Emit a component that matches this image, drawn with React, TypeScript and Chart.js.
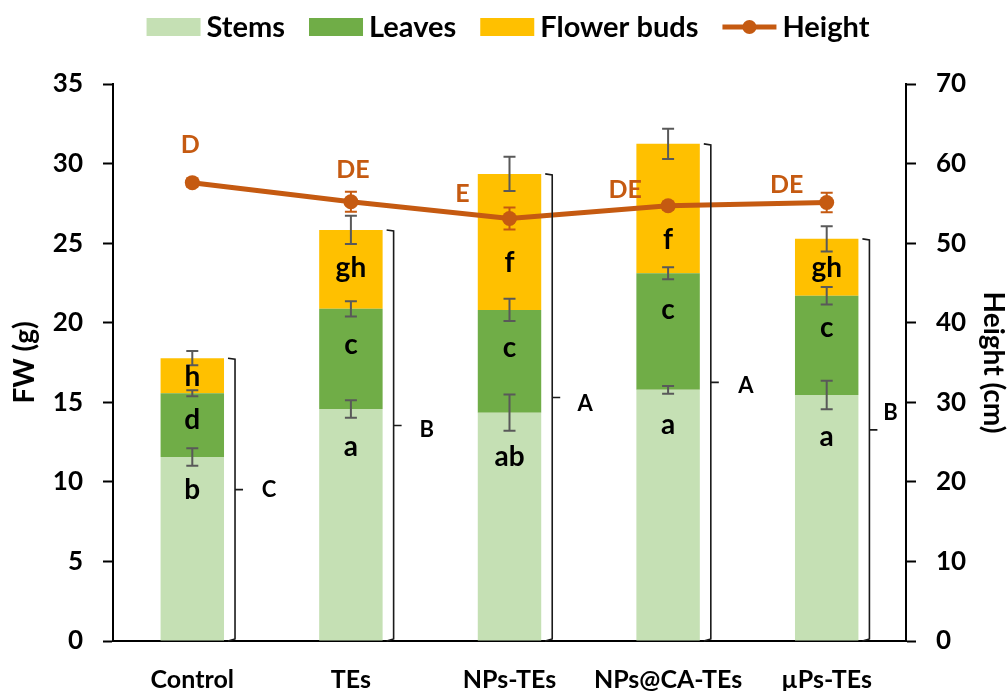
import React, { useEffect, useRef } from "react";
import { Chart, registerables } from "chart.js";

Chart.register(...registerables);

// ---- data ----
const categories = ["Control", "TEs", "NPs-TEs", "NPs@CA-TEs", "µPs-TEs"];
const stems = [11.56, 14.58, 14.35, 15.78, 15.46];
const leaves = [4.01, 6.29, 6.45, 7.33, 6.24];
const flowerBuds = [2.2, 4.96, 8.55, 8.13, 3.57];
const heightCm = [57.6, 55.2, 53.1, 54.7, 55.1];

const stemsErr = [0.55, 0.55, 1.14, 0.24, 0.89];
const leavesErr = [0.19, 0.48, 0.7, 0.38, 0.55];
const flowerErr = [0.45, 0.89, 1.08, 0.95, 0.79];
const heightErr = [0.5, 1.26, 1.38, 0.5, 1.23];

const stemsLetters = ["b", "a", "ab", "a", "a"];
const leavesLetters = ["d", "c", "c", "c", "c"];
const flowerLetters = ["h", "gh", "f", "f", "gh"];
const heightLetters = ["D", "DE", "E", "DE", "DE"];
const totalLetters = ["C", "B", "A", "A", "B"];

// ---- label placement (layout: FW units / px offsets) ----
const stemsLabelAt = [9.49, 12.21, 11.58, 13.57, 12.84];
const leavesLabelAt = [13.9, 18.6, 18.39, 20.8, 19.65];
const flowerLabelAt = [16.6, 23.44, 23.73, 25.2, 23.42];
const heightLabelOffset = [
  [-2, -38],
  [2, -32],
  [-47, -25],
  [-43, -16],
  [-40, -18],
];
const groupLabelOffset = [
  [34, 0],
  [33, 4],
  [33, 6],
  [35, 3],
  [21, -17],
];

const FONT = "Lato, 'Open Sans', sans-serif";
const C_STEMS = "#C5E0B4";
const C_LEAVES = "#70AD47";
const C_FLOWER = "#FFC000";
const C_HEIGHT = "#C55A11";
const C_ERR = "#595959";

function errBar(ctx: CanvasRenderingContext2D, x: number, yTop: number, yBot: number, color: string, cap: number) {
  ctx.save();
  ctx.strokeStyle = color;
  ctx.lineWidth = 2;
  ctx.beginPath();
  ctx.moveTo(x, yTop);
  ctx.lineTo(x, yBot);
  ctx.moveTo(x - cap, yTop);
  ctx.lineTo(x + cap, yTop);
  ctx.moveTo(x - cap, yBot);
  ctx.lineTo(x + cap, yBot);
  ctx.stroke();
  ctx.restore();
}

const overlayPlugin = {
  id: "overlay",
  afterDatasetsDraw(chart: any) {
    const ctx: CanvasRenderingContext2D = chart.ctx;
    const y = chart.scales.y;
    const y2 = chart.scales.y2;
    const meta0 = chart.getDatasetMeta(0);
    const metaLine = chart.getDatasetMeta(3);

    categories.forEach((_, i) => {
      const bar = meta0.data[i];
      const bx = bar.x;
      const bw = bar.width;
      const s = stems[i];
      const l = s + leaves[i];
      const f = l + flowerBuds[i];

      // stacked error bars
      errBar(ctx, bx, y.getPixelForValue(s + stemsErr[i]), y.getPixelForValue(s - stemsErr[i]), C_ERR, 6);
      errBar(ctx, bx, y.getPixelForValue(l + leavesErr[i]), y.getPixelForValue(l - leavesErr[i]), C_ERR, 6);
      errBar(ctx, bx, y.getPixelForValue(f + flowerErr[i]), y.getPixelForValue(f - flowerErr[i]), C_ERR, 6);

      // segment letters
      ctx.save();
      ctx.fillStyle = "#000";
      ctx.font = `bold 28px ${FONT}`;
      ctx.textAlign = "center";
      ctx.textBaseline = "middle";
      ctx.fillText(stemsLetters[i], bx, y.getPixelForValue(stemsLabelAt[i]));
      ctx.fillText(leavesLetters[i], bx, y.getPixelForValue(leavesLabelAt[i]));
      ctx.fillText(flowerLetters[i], bx, y.getPixelForValue(flowerLabelAt[i]));
      ctx.restore();

      // bracket
      const brX = bx + bw / 2 + 11;
      const top = y.getPixelForValue(f);
      const bot = y.getPixelForValue(0);
      const mid = (top + bot) / 2 - 10;
      ctx.save();
      ctx.strokeStyle = "#1a1a1a";
      ctx.lineWidth = 1.6;
      ctx.beginPath();
      ctx.moveTo(brX - 7, top);
      ctx.lineTo(brX, top + 1);
      ctx.lineTo(brX, bot - 2);
      ctx.lineTo(brX - 7, bot);
      ctx.moveTo(brX, mid);
      ctx.lineTo(brX + 8, mid);
      ctx.stroke();
      ctx.fillStyle = "#000";
      ctx.font = `bold 22px ${FONT}`;
      ctx.textAlign = "center";
      ctx.textBaseline = "middle";
      ctx.fillText(totalLetters[i], brX + groupLabelOffset[i][0], mid + groupLabelOffset[i][1]);
      ctx.restore();

      // height error bars + letters
      const pt = metaLine.data[i];
      errBar(
        ctx,
        pt.x,
        y2.getPixelForValue(heightCm[i] + heightErr[i]),
        y2.getPixelForValue(heightCm[i] - heightErr[i]),
        C_HEIGHT,
        6
      );
      ctx.save();
      ctx.fillStyle = C_HEIGHT;
      ctx.beginPath();
      ctx.arc(pt.x, pt.y, 7.5, 0, Math.PI * 2);
      ctx.fill();
      ctx.font = `bold 25px ${FONT}`;
      ctx.textAlign = "center";
      ctx.textBaseline = "middle";
      ctx.fillText(heightLetters[i], pt.x + heightLabelOffset[i][0], pt.y + heightLabelOffset[i][1]);
      ctx.restore();
    });
  },
  afterDraw(chart: any) {
    // legend
    const ctx: CanvasRenderingContext2D = chart.ctx;
    ctx.save();
    ctx.font = `bold 29px ${FONT}`;
    ctx.textBaseline = "middle";
    ctx.textAlign = "left";
    const items = [
      { label: "Stems", color: C_STEMS, kind: "box" },
      { label: "Leaves", color: C_LEAVES, kind: "box" },
      { label: "Flower buds", color: C_FLOWER, kind: "box" },
      { label: "Height", color: C_HEIGHT, kind: "line" },
    ];
    const boxW = 54;
    const gapText = 6;
    const gapItem = 24;
    const widths = items.map((it) => boxW + gapText + ctx.measureText(it.label).width);
    const total = widths.reduce((a, b) => a + b, 0) + gapItem * (items.length - 1);
    let x = 508 - total / 2;
    const cy = 27;
    items.forEach((it, k) => {
      if (it.kind === "box") {
        ctx.fillStyle = it.color;
        ctx.fillRect(x, cy - 9, boxW, 18);
      } else {
        ctx.strokeStyle = it.color;
        ctx.lineWidth = 5;
        ctx.beginPath();
        ctx.moveTo(x, cy);
        ctx.lineTo(x + boxW, cy);
        ctx.stroke();
        ctx.fillStyle = it.color;
        ctx.beginPath();
        ctx.arc(x + boxW / 2, cy, 7, 0, Math.PI * 2);
        ctx.fill();
      }
      ctx.fillStyle = "#000";
      ctx.fillText(it.label, x + boxW + gapText, cy + 1);
      x += widths[k] + gapItem;
    });
    ctx.restore();
  },
};

export default function App() {
  const ref = useRef<HTMLCanvasElement | null>(null);

  useEffect(() => {
    document.body.style.margin = "0";
    if (!ref.current) return;
    const axisTickFont = { family: FONT, size: 26, weight: "bold" as const };
    const titleFont = { family: FONT, size: 28, weight: "bold" as const, lineHeight: 1 };
    const chart = new Chart(ref.current, {
      type: "bar",
      data: {
        labels: categories,
        datasets: [
          {
            type: "bar",
            label: "Stems",
            data: stems,
            backgroundColor: C_STEMS,
            stack: "fw",
            yAxisID: "y",
            order: 1,
            barPercentage: 1,
            categoryPercentage: 0.4,
          },
          {
            type: "bar",
            label: "Leaves",
            data: leaves,
            backgroundColor: C_LEAVES,
            stack: "fw",
            yAxisID: "y",
            order: 1,
            barPercentage: 1,
            categoryPercentage: 0.4,
          },
          {
            type: "bar",
            label: "Flower buds",
            data: flowerBuds,
            backgroundColor: C_FLOWER,
            stack: "fw",
            yAxisID: "y",
            order: 1,
            barPercentage: 1,
            categoryPercentage: 0.4,
          },
          {
            type: "line",
            label: "Height",
            data: heightCm,
            borderColor: C_HEIGHT,
            backgroundColor: C_HEIGHT,
            borderWidth: 5,
            pointRadius: 0,
            yAxisID: "y2",
            order: 0,
          } as any,
        ],
      },
      options: {
        animation: false,
        responsive: false,
        layout: { padding: { top: 84, left: 0, right: 0, bottom: 0 } },
        plugins: {
          legend: { display: false },
          tooltip: { enabled: false },
        },
        scales: {
          x: {
            stacked: true,
            grid: { drawOnChartArea: false, drawTicks: false },
            border: { color: "#000", width: 2 },
            ticks: { color: "#000", font: { family: FONT, size: 25, weight: "bold" }, padding: 24 },
            afterFit: (s: any) => {
              s.height = 50;
            },
          },
          y: {
            stacked: true,
            position: "left",
            min: 0,
            max: 35,
            ticks: { stepSize: 5, color: "#000", font: axisTickFont, padding: 20 },
            grid: { drawOnChartArea: false, tickLength: 10, tickColor: "#000", tickWidth: 2 },
            border: { color: "#000", width: 2 },
            title: {
              display: true,
              text: "FW (g)",
              color: "#000",
              font: titleFont,
              padding: { top: 11, bottom: 0 },
            },
            afterFit: (s: any) => {
              s.width = 113;
            },
          },
          y2: {
            position: "right",
            min: 0,
            max: 70,
            ticks: { stepSize: 10, color: "#000", font: axisTickFont, padding: 20 },
            grid: { drawOnChartArea: false, tickLength: 10, tickColor: "#000", tickWidth: 2 },
            border: { color: "#000", width: 2 },
            title: {
              display: true,
              text: "Height (cm)",
              color: "#000",
              font: titleFont,
              padding: { top: 0, bottom: 0 },
            },
            afterFit: (s: any) => {
              s.width = 101;
            },
          },
        },
      },
      plugins: [overlayPlugin],
    });
    return () => chart.destroy();
  }, []);

  return (
    <div style={{ position: "absolute", left: 0, top: 0, width: 1007, height: 691, background: "#fff" }}>
      <canvas ref={ref} width={1007} height={691} />
    </div>
  );
}
